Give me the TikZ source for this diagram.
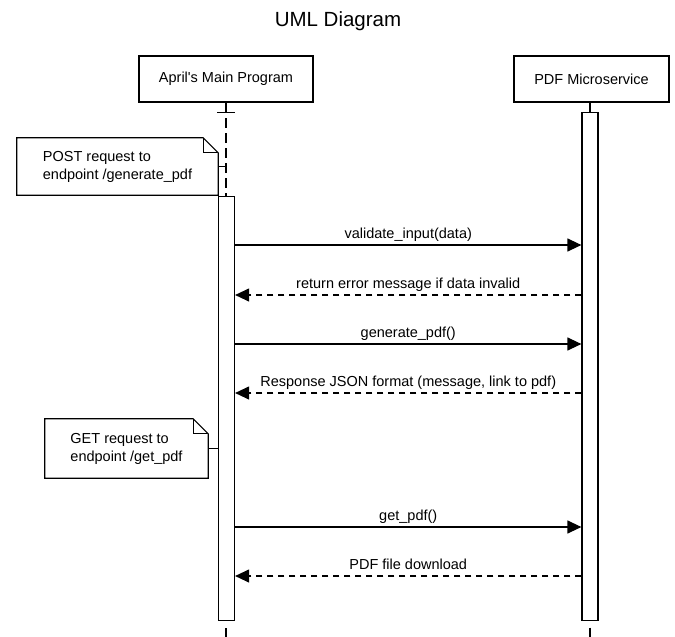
\documentclass[tikz,border=0pt]{standalone}
\usepackage{fontspec}
\setmainfont{Liberation Sans}
\usetikzlibrary{arrows.meta,calc}
\begin{document}
\begin{tikzpicture}[x=1pt,y=-1pt,
  font=\fontsize{14.5}{18}\selectfont,
  lw/.style={line width=1.2pt},
  participant/.style={draw,line width=2.4pt,minimum height=46pt,inner sep=0pt},
  actbar/.style={draw,fill=white,line width=1.2pt,inner sep=0pt,minimum width=16pt},
  msg/.style={line width=1.2pt,-{Triangle[length=14pt,width=13pt]}},
  reply/.style={msg,dash pattern=on 6pt off 5pt},
  lifeline/.style={line width=1.2pt,dash pattern=on 10pt off 5pt},
  notetext/.style={align=left,inner sep=0pt},
  notebox/.style={line width=1.2pt,fill=white},
  msglabel/.style={midway,anchor=base,yshift=7pt}
]
\useasboundingbox (0,0) rectangle (675,637);

\node[anchor=base,font=\fontsize{20.5}{24}\selectfont] (title) at (338,27) {UML Diagram};

\node[participant,minimum width=174pt] (main) at (226,79) {April\textquotesingle s Main Program};
\node[participant,minimum width=155pt] (pdf) at (591.5,79) {PDF Microservice};

% lifelines
\node[actbar,minimum height=424pt,anchor=north] (mainbar) at (226.5,196) {};
\node[actbar,minimum height=508pt,anchor=north] (pdfbar) at (590,111.5) {};

\draw[lifeline] (main.south) -- (main.south |- mainbar.north);
\draw[lw] ($(main.south)+(-9,9)$) -- ($(main.south)+(9,9)$);
\draw[lw] (pdfbar.north |- pdf.south) -- (pdfbar.north);

\coordinate (bottom) at (0,637);
\draw[lw,dash pattern=on 12pt off 7pt,dash phase=12pt] (mainbar.south -| main.south) -- (bottom -| main.south);
\draw[lw,dash pattern=on 12pt off 7pt,dash phase=12pt] (pdfbar.south) -- (bottom -| pdfbar.south);

% notes
\node[minimum width=201pt,minimum height=57pt,inner sep=0pt] (note1) at (117.5,166.5) {};
\draw[notebox] (note1.north west) -- ($(note1.north east)+(-15,0)$) -- ($(note1.north east)+(0,15)$) -- (note1.south east) -- (note1.south west) -- cycle;
\draw[lw] ($(note1.north east)+(-15,0)$) |- ($(note1.north east)+(0,15)$);
\node[notetext] (note1t) at (note1) {POST request to\\endpoint /generate\_pdf};
\draw[lw] (note1.east) -- (note1.east -| main.south);

\node[minimum width=163pt,minimum height=59pt,inner sep=0pt] (note2) at (126.5,448.5) {};
\draw[notebox] (note2.north west) -- ($(note2.north east)+(-15,0)$) -- ($(note2.north east)+(0,15)$) -- (note2.south east) -- (note2.south west) -- cycle;
\draw[lw] ($(note2.north east)+(-15,0)$) |- ($(note2.north east)+(0,15)$);
\node[notetext] (note2t) at (note2) {GET request to\\endpoint /get\_pdf};
\draw[lw] (note2.east) -- (note2.east -| mainbar.west);

% messages
\coordinate (y1) at (0,245);
\coordinate (y2) at (0,295);
\coordinate (y3) at (0,344);
\coordinate (y4) at (0,393);
\coordinate (y5) at (0,527);
\coordinate (y6) at (0,576);

\draw[msg] (mainbar.east |- y1) -- node[msglabel] {validate\_input(data)} (pdfbar.west |- y1);
\draw[reply] (pdfbar.west |- y2) -- node[msglabel] {return error message if data invalid} (mainbar.east |- y2);
\draw[msg] (mainbar.east |- y3) -- node[msglabel] {generate\_pdf()} (pdfbar.west |- y3);
\draw[reply] (pdfbar.west |- y4) -- node[msglabel] {Response JSON format (message, link to pdf)} (mainbar.east |- y4);
\draw[msg] (mainbar.east |- y5) -- node[msglabel] {get\_pdf()} (pdfbar.west |- y5);
\draw[reply] (pdfbar.west |- y6) -- node[msglabel] {PDF file download} (mainbar.east |- y6);
\end{tikzpicture}
\end{document}
